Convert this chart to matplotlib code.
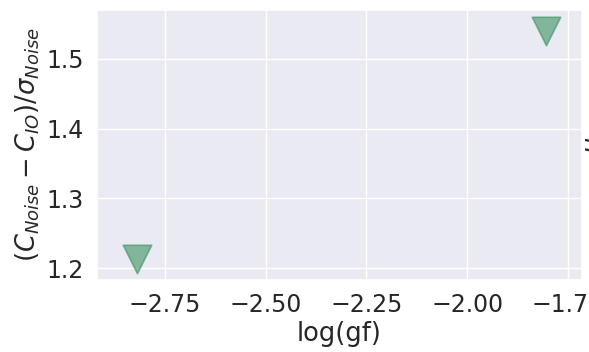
import matplotlib
matplotlib.use("Agg")
import matplotlib.pyplot as plt
import seaborn as sns

sns.set_theme(style="darkgrid")
plt.rcParams['font.family'] = ['DejaVu Sans']

log_gf = [-2.82, -1.805]
contrast = [1.213, 1.540]
xticks = [-2.75, -2.50, -2.25, -2.00, -1.75]
yticks = [1.2, 1.3, 1.4, 1.5]

fig = plt.figure(figsize=(5.89, 3.52), dpi=100)
ax = fig.add_axes([97 / 589, 1 - 280 / 352, (582 - 97) / 589, (280 - 10) / 352])

ax.scatter(log_gf, contrast, marker='v', s=420, color='#2e8b57', alpha=0.55,
           edgecolor='#2e8b57', linewidth=1.2, zorder=3)

ax.set_xlim(-2.919, -1.715)
ax.set_ylim(1.183, 1.570)
ax.set_xticks(xticks)
ax.set_xticklabels([f"{t:.2f}".replace('-', '\u2212') for t in xticks])
ax.set_yticks(yticks)
ax.tick_params(labelsize=17)
ax.set_xlabel('log(gf)', fontsize=18.5, labelpad=3)
ax.set_ylabel(r'$(C_{Noise} - C_{IO})/\sigma_{Noise}$', fontsize=18.5, labelpad=3)

# label of the neighbouring panel, cut by the figure edge
fig.text(583 / 589, 1 - 139 / 352, r'$\mu_{\sigma}$', rotation=90, fontsize=18.5,
         ha='left', va='center')

fig.savefig('out.png', dpi=100)
